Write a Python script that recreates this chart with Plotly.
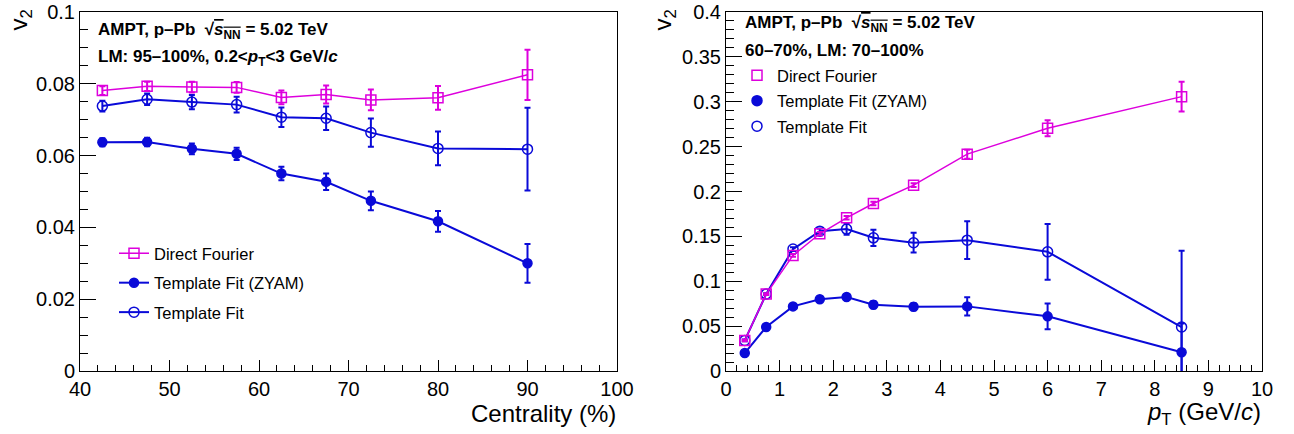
import plotly.graph_objects as go

# ---------------- data ----------------
# Left panel: v2 vs centrality
cent = [42.5, 47.5, 52.5, 57.5, 62.5, 67.5, 72.5, 80, 90]
cent_df = [0.0781, 0.0793, 0.0791, 0.0790, 0.0762, 0.0770, 0.0755, 0.0761, 0.0825]
cent_df_err = [0.0012, 0.0013, 0.0015, 0.0015, 0.0019, 0.0025, 0.0029, 0.0033, 0.0070]
cent_zyam = [0.0637, 0.0638, 0.0619, 0.0605, 0.0550, 0.0527, 0.0474, 0.0417, 0.0300]
cent_zyam_err = [0.0011, 0.0012, 0.0015, 0.0017, 0.0019, 0.0023, 0.0026, 0.0029, 0.0054]
cent_tf = [0.0738, 0.0757, 0.0749, 0.0742, 0.0707, 0.0704, 0.0664, 0.0620, 0.0618]
cent_tf_err = [0.0015, 0.0016, 0.0020, 0.0022, 0.0027, 0.0033, 0.0039, 0.0047, 0.0115]

# Right panel: v2 vs pT
pt = [0.35, 0.75, 1.25, 1.75, 2.25, 2.75, 3.5, 4.5, 6.0, 8.5]
pt_df = [0.0341, 0.0857, 0.1288, 0.1529, 0.1707, 0.1866, 0.2071, 0.2416, 0.2705, 0.3057]
pt_df_err = [0.001, 0.001, 0.0015, 0.002, 0.002, 0.002, 0.002, 0.005, 0.009, 0.0165]
pt_zyam = [0.0200, 0.0490, 0.0720, 0.0800, 0.0824, 0.0738, 0.0716, 0.0720, 0.0609, 0.0208]
pt_zyam_err = [0.001, 0.001, 0.0015, 0.002, 0.002, 0.004, 0.004, 0.0103, 0.0143, 0.032]
pt_tf = [0.0341, 0.0857, 0.1358, 0.1558, 0.1581, 0.1484, 0.1429, 0.1458, 0.1328, 0.0490]
pt_tf_err = [0.001, 0.001, 0.002, 0.003, 0.0063, 0.009, 0.011, 0.021, 0.031, 0.085]

series_names = ["Direct Fourier", "Template Fit (ZYAM)", "Template Fit"]

# ---------------- style ----------------
W, H = 1294, 434
MAG = "#dd00dd"
BLUE = "#0a0ad8"
FONT = "Liberation Sans, Arial, Helvetica, sans-serif"

def px(x):
    return x / W

def py(y):
    return 1 - y / H

# plot frames in pixels
L1, R1, T, B = 80, 617, 12, 371
L2, R2 = 726, 1262

fig = go.Figure()

def err(arr, w=3):
    return dict(type="data", array=arr, visible=True, thickness=2, width=w)

def add_series(x, y, e, name, color, symbol, size, lw, xa, ya, legend, showlegend):
    fig.add_trace(go.Scatter(
        x=x, y=y, mode="lines+markers", name=name,
        xaxis=xa, yaxis=ya, legend=legend, showlegend=showlegend,
        legendgroup=name + xa,
        line=dict(color=color, width=lw),
        marker=dict(symbol=symbol, size=size, color=color,
                    line=dict(color=color, width=1.5)),
        error_y=dict(err(e), color=color),
    ))

# left panel
add_series(cent, cent_df, cent_df_err, series_names[0], MAG, "square-open", 10, 1.5, "x", "y", "legend", True)
add_series(cent, cent_zyam, cent_zyam_err, series_names[1], BLUE, "circle", 9, 2, "x", "y", "legend", True)
add_series(cent, cent_tf, cent_tf_err, series_names[2], BLUE, "circle-open", 10, 2, "x", "y", "legend", True)

# right panel
add_series(pt, pt_zyam, pt_zyam_err, series_names[1], BLUE, "circle", 9, 2, "x2", "y2", "legend2", False)
add_series(pt, pt_tf, pt_tf_err, series_names[2], BLUE, "circle-open", 10, 2, "x2", "y2", "legend2", False)
add_series(pt, pt_df, pt_df_err, series_names[0], MAG, "square-open", 10, 1.5, "x2", "y2", "legend2", False)

# right legend: markers only
for name, color, symbol in zip(series_names, [MAG, BLUE, BLUE], ["square-open", "circle", "circle-open"]):
    fig.add_trace(go.Scatter(
        x=[None], y=[None], mode="markers", name=name, xaxis="x2", yaxis="y2",
        legend="legend2", legendgroup=name + "leg2",
        marker=dict(symbol=symbol, size=10, color=color, line=dict(color=color, width=1.5)),
    ))

def axis(domain, rng, dtick, mdtick, ticklen, mticklen, tick0, anchor):
    return dict(
        domain=domain, range=rng, dtick=dtick, tick0=tick0,
        ticks="inside", ticklen=ticklen, tickwidth=1, tickcolor="black",
        minor=dict(ticks="inside", ticklen=mticklen, dtick=mdtick, tick0=tick0,
                   tickwidth=1, tickcolor="black", showgrid=False),
        showline=True, mirror=True, linecolor="black", linewidth=1,
        showgrid=False, zeroline=False, anchor=anchor, automargin=False,
        tickfont=dict(family=FONT, size=20, color="black"),
    )

ydom = [py(B), py(T)]
fig.update_layout(
    width=W, height=H, autosize=False,
    margin=dict(l=0, r=0, t=0, b=0, pad=0),
    paper_bgcolor="white", plot_bgcolor="white",
    font=dict(family=FONT, color="black"),
    xaxis=axis([px(L1), px(R1)], [40, 100], 10, 2, 11, 6, 40, "y"),
    yaxis=axis(ydom, [0, 0.1], 0.02, 0.005, 16, 8, 0, "x"),
    xaxis2=axis([px(L2), px(R2)], [0, 10], 1, 0.2, 11, 6, 0, "y2"),
    yaxis2=axis(ydom, [0, 0.4], 0.05, 0.01, 16, 8, 0, "x2"),
    legend=dict(x=px(114), y=py(236), xanchor="left", yanchor="top",
                bgcolor="rgba(0,0,0,0)", font=dict(family=FONT, size=16.5, color="black"),
                tracegroupgap=5, itemsizing="trace"),
    legend2=dict(x=px(737), y=py(58), xanchor="left", yanchor="top",
                 bgcolor="rgba(0,0,0,0)", font=dict(family=FONT, size=16.5, color="black"),
                 tracegroupgap=1, itemsizing="trace"),
)

sqrt_s = "√<span style='text-decoration:overline'><i>s</i><sub>NN</sub></span>"
ann = [
    dict(x=px(97), y=py(31), text="<b>AMPT, p–Pb  " + sqrt_s + " = 5.02 TeV</b>", size=17, xanchor="left"),
    dict(x=px(97), y=py(58), text="<b>LM: 95–100%, 0.2&lt;<i>p</i><sub>T</sub>&lt;3 GeV/<i>c</i></b>", size=17, xanchor="left"),
    dict(x=px(744), y=py(24), text="<b>AMPT, p–Pb  " + sqrt_s + " = 5.02 TeV</b>", size=17, xanchor="left"),
    dict(x=px(744), y=py(50), text="<b>60–70%, LM: 70–100%</b>", size=17, xanchor="left"),
    dict(x=px(R1), y=py(413), text="Centrality (%)", size=24, xanchor="right"),
    dict(x=px(R2), y=py(413), text="<i>p</i><sub>T</sub> (GeV/<i>c</i>)", size=24, xanchor="right"),
]
for a in ann:
    fig.add_annotation(x=a["x"], y=a["y"], xref="paper", yref="paper", text=a["text"],
                       showarrow=False, xanchor=a["xanchor"], yanchor="middle", borderpad=0,
                       font=dict(family=FONT, size=a["size"], color="black"))

for xc in (20, 664):
    fig.add_annotation(x=px(xc), y=py(9), xref="paper", yref="paper",
                       text="v<sub>2</sub>", showarrow=False, textangle=-90,
                       xanchor="center", yanchor="top", borderpad=0,
                       font=dict(family=FONT, size=24, color="black"))

fig.write_html("out.html", config={"displayModeBar": False},
               post_script="document.body.style.margin='0';document.body.style.overflow='hidden';")
